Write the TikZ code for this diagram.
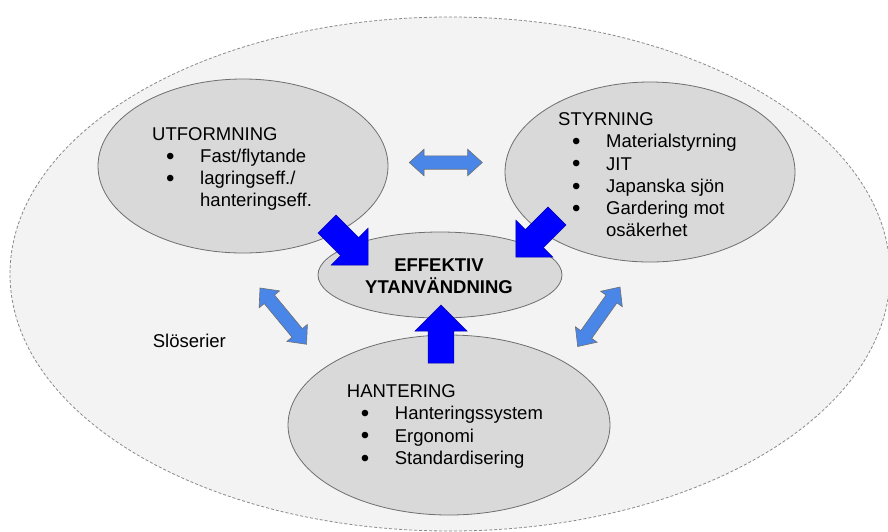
\documentclass[tikz,border=0pt]{standalone}
\usepackage{fontspec}
\usepackage{graphicx}
\setmainfont{Liberation Sans}
\usetikzlibrary{shapes.geometric}
\definecolor{outerfill}{HTML}{F3F3F3}
\definecolor{outerline}{HTML}{8A8A8A}
\definecolor{innerfill}{HTML}{D9D9D9}
\definecolor{innerline}{HTML}{6E6E6E}
\definecolor{lightarrow}{HTML}{4A86E8}
\definecolor{strongarrow}{HTML}{0000FF}
\newcommand\bulitem{\hspace*{14pt}\makebox[34pt][l]{\raisebox{-1.8pt}{\scalebox{1.3}{\textbullet}}}}
\newcommand\bulcont{\hspace*{48pt}}
\begin{document}
\begin{tikzpicture}[x=1pt,y=-1pt,
  outer/.style={ellipse,inner sep=0,fill=outerfill,draw=outerline,line width=0.8pt,dash pattern=on 3pt off 2pt},
  topic/.style={ellipse,inner sep=0,fill=innerfill,draw=innerline,line width=0.8pt},
  txt/.style={inner sep=0,anchor=base west,font=\fontsize{18.5}{22.2}\selectfont},
  bigarrow/.style={fill=strongarrow,draw=strongarrow!70!black,line width=0.5pt,line join=miter},
  dblarrow/.style={fill=lightarrow,draw=innerline,line width=0.6pt,line join=miter},
  blockarrow/.pic={\draw[bigarrow] (0,-12.8) -- (32,-12.8) -- (32,-26) -- (58,0) -- (32,26) -- (32,12.8) -- (0,12.8) -- cycle;},
  twoway/.pic={\draw[dblarrow] (0,0) -- (14.7,-13.3) -- (14.7,-6.7) -- (58.3,-6.7) -- (58.3,-13.3) -- (73,0) -- (58.3,13.3) -- (58.3,6.7) -- (14.7,6.7) -- (14.7,13.3) -- cycle;}
]
\useasboundingbox (0,0) rectangle (888,531);
\clip (0,0) rectangle (888,531);
\fill[white] (0,0) rectangle (888,531);

% outer area
\node[outer,minimum width=880pt,minimum height=514pt] (omr) at (450,274) {};

% topic ellipses
\node[topic,minimum width=290pt,minimum height=174pt] (utf) at (243,166) {};
\node[topic,minimum width=290pt,minimum height=180pt] (sty) at (650,172) {};
\node[topic,minimum width=322pt,minimum height=180pt] (han) at (449,425) {};
\node[topic,minimum width=244pt,minimum height=86pt] (eff) at (440,275) {};

% texts
\node[txt] (utftext) at (152,140) {\begin{tabular}[t]{@{}l@{}}
UTFORMNING\\
\bulitem Fast/flytande\\
\bulitem lagringseff./\\
\bulcont hanteringseff.
\end{tabular}};
\node[txt] (stytext) at (558,125.7) {\begin{tabular}[t]{@{}l@{}}
STYRNING\\
\bulitem Materialstyrning\\
\bulitem JIT\\
\bulitem Japanska sjön\\
\bulitem Gardering mot\\
\bulcont osäkerhet
\end{tabular}};
\node[txt] (hantext) at (346.7,397.7) {\begin{tabular}[t]{@{}l@{}}
HANTERING\\
\bulitem Hanteringssystem\\
\bulitem Ergonomi\\
\bulitem Standardisering
\end{tabular}};
\node[inner sep=0,anchor=base,font=\fontsize{18.5}{21}\selectfont\bfseries] (efftext) at (439,271.7) {\begin{tabular}[t]{@{}c@{}}
EFFEKTIV\\
YTANVÄNDNING
\end{tabular}};
\node[txt] (slo) at (152.7,347.7) {Slöserier};

% strong arrows into the centre
\coordinate (a1) at (327,224);
\coordinate (a2) at (557,216);
\coordinate (a3) at (441,363);
\pic[rotate=-45] at (a1) {blockarrow};
\pic[rotate=-135] at (a2) {blockarrow};
\pic[rotate=90] at (a3) {blockarrow};

% two-way arrows between topics
\coordinate (d1) at (409.3,162.5);
\coordinate (d2) at (260,288);
\coordinate (d3) at (620,287);
\pic at (d1) {twoway};
\pic[rotate=-50.4] at (d2) {twoway};
\pic[rotate=-125.4] at (d3) {twoway};
\end{tikzpicture}
\end{document}
